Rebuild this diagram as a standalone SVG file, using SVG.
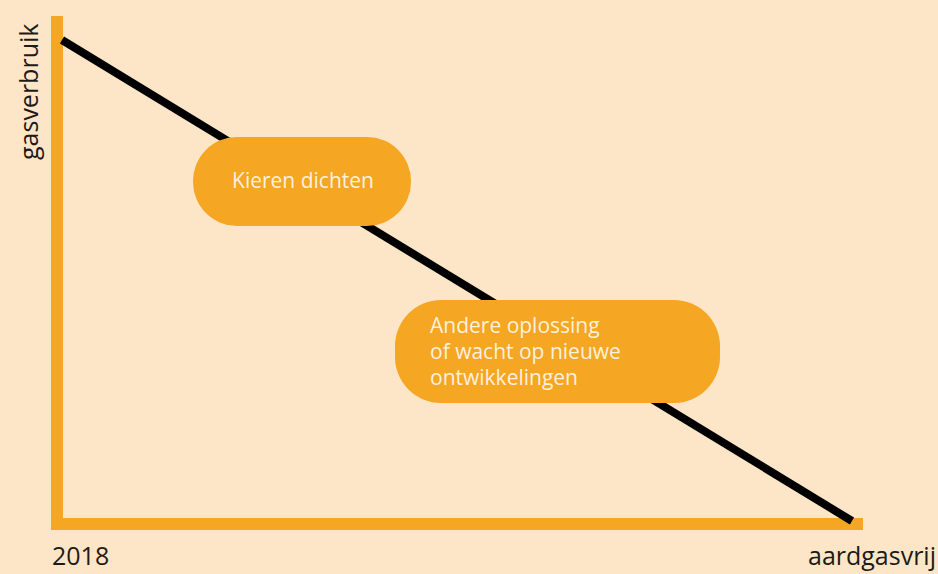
<svg xmlns="http://www.w3.org/2000/svg" width="938" height="574" viewBox="0 0 938 574">
<style>
.lbl{font-family:"Open Sans","Noto Sans",sans-serif;fill:#1e1a16;font-size:25px}
.box{fill:#F5A623}
.bt{font-family:"Open Sans","Noto Sans",sans-serif;fill:#FDF1DE;font-size:21px}
.axis{stroke:#F5A623;stroke-width:12;fill:none}
</style>
<rect width="938" height="574" fill="#FDE6C8"/>
<g id="axes">
<path class="axis" d="M57,16 V524 H863"/>
</g>
<g id="connectors">
<line x1="62" y1="40" x2="852" y2="521" stroke="#000" stroke-width="8"/>
</g>
<g id="node1">
<rect class="box" x="193" y="137" width="218" height="89" rx="44"/>
<text class="bt" x="303" y="188" text-anchor="middle">Kieren dichten</text>
</g>
<g id="node2">
<rect class="box" x="395" y="300" width="325" height="103" rx="46"/>
<text class="bt" x="430" y="333">Andere oplossing</text>
<text class="bt" x="430" y="359">of wacht op nieuwe</text>
<text class="bt" x="430" y="385">ontwikkelingen</text>
</g>
<text class="lbl" transform="translate(38,160) rotate(-90)">gasverbruik</text>
<text class="lbl" x="52" y="565">2018</text>
<text class="lbl" x="936" y="565" text-anchor="end">aardgasvrij</text>
</svg>
